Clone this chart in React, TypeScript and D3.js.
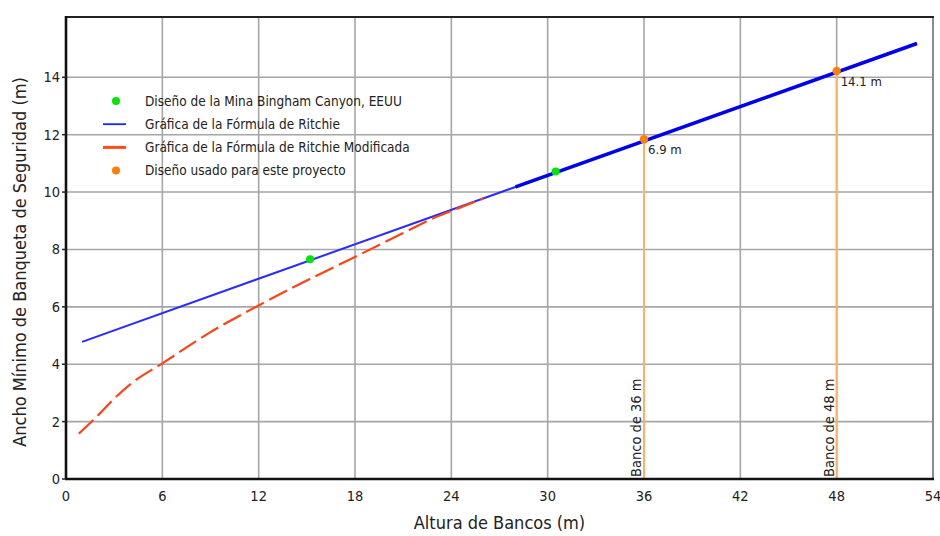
import React from "react";
import * as d3 from "d3";

const xTicks = [0, 6, 12, 18, 24, 30, 36, 42, 48, 54];
const yTicks = [0, 2, 4, 6, 8, 10, 12, 14];

const ritchieH = [1, 53];
const ritchieW = [4.78, 15.18];
const ritchieBoldH = [28, 53];
const ritchieBoldW = [10.18, 15.18];

const modH = [0.8, 2, 3, 4, 6, 9, 12, 15, 18, 21, 23, 24.5, 26];
const modW = [1.58, 2.22, 2.8, 3.3, 4.03, 5.12, 6.05, 6.92, 7.74, 8.57, 9.12, 9.45, 9.78];

const binghamH = [15.2, 30.5];
const binghamW = [7.66, 10.72];

const projectH = [36, 48];
const projectW = [11.84, 14.22];
const projectLabels = ["6.9 m", "14.1 m"];
const bancoLabels = ["Banco de 36 m", "Banco de 48 m"];

const legendItems = [
  { kind: "dot", color: "#00e600", label: "Diseño de la Mina Bingham Canyon, EEUU" },
  { kind: "line", color: "#2020ff", label: "Gráfica de la Fórmula de Ritchie" },
  { kind: "line", color: "#ff4d1a", label: "Gráfica de la Fórmula de Ritchie Modificada" },
  { kind: "dot", color: "#ff8000", label: "Diseño usado para este proyecto" },
];

const W = 940;
const H = 536;
const left = 66, right = 933, top = 17, bottom = 479;
const FONT = "'DejaVu Sans Condensed', 'Liberation Sans Narrow', sans-serif";

export default function App() {
  const x = d3.scaleLinear().domain([0, 54]).range([left, right]);
  const y = d3.scaleLinear().domain([0, 14]).range([bottom, 77.3]);

  const line = d3
    .line<[number, number]>()
    .x((d) => x(d[0]))
    .y((d) => y(d[1]));
  const curve = d3
    .line<[number, number]>()
    .x((d) => x(d[0]))
    .y((d) => y(d[1]))
    .curve(d3.curveMonotoneX);

  const ritchie = ritchieH.map((h, i) => [h, ritchieW[i]] as [number, number]);
  const ritchieBold = ritchieBoldH.map((h, i) => [h, ritchieBoldW[i]] as [number, number]);
  const mod = modH.map((h, i) => [h, modW[i]] as [number, number]);

  return (
    <svg
      width={W}
      height={H}
      style={{ position: "absolute", left: 0, top: 0, background: "#fff" }}
      fontFamily={FONT}
    >
      <rect x={0} y={0} width={W} height={H} fill="#fff" />
      {/* grid */}
      {xTicks.slice(1, -1).map((t) => (
        <line key={"gx" + t} x1={x(t)} x2={x(t)} y1={top} y2={bottom} stroke="#a6a6a6" strokeWidth={1.6} />
      ))}
      {yTicks.slice(1).map((t) => (
        <line key={"gy" + t} x1={left} x2={right} y1={y(t)} y2={y(t)} stroke="#a6a6a6" strokeWidth={1.6} />
      ))}
      {/* right border */}
      <line x1={right} x2={right} y1={top} y2={bottom} stroke="#8c8c8c" strokeWidth={2} />
      {/* top border */}
      <line x1={left} x2={right + 1} y1={top} y2={top} stroke="#222" strokeWidth={2.2} />

      {/* orange vertical lines */}
      {projectH.map((h, i) => (
        <line key={"pv" + i} x1={x(h)} x2={x(h)} y1={y(projectW[i])} y2={bottom} stroke="#ffb060" strokeWidth={2} />
      ))}

      {/* Ritchie */}
      <path d={line(ritchie) || ""} fill="none" stroke="#2a2aff" strokeWidth={2} />
      <path d={line(ritchieBold) || ""} fill="none" stroke="#0000f0" strokeWidth={3.6} />
      {/* modified Ritchie */}
      <path d={curve(mod) || ""} fill="none" stroke="#ff4414" strokeWidth={2.2} strokeDasharray="20,6" />

      {/* Bingham points */}
      {binghamH.map((h, i) => (
        <circle key={"b" + i} cx={x(h)} cy={y(binghamW[i])} r={4} fill="#00e600" />
      ))}
      {/* project points */}
      {projectH.map((h, i) => (
        <circle key={"p" + i} cx={x(h)} cy={y(projectW[i])} r={4.2} fill="#ff8000" />
      ))}
      {projectH.map((h, i) => (
        <text key={"pl" + i} x={x(h) + 4} y={y(projectW[i]) + 15} fontSize={13} fill="#222">
          {projectLabels[i]}
        </text>
      ))}
      {projectH.map((h, i) => (
        <text
          key={"bl" + i}
          transform={`translate(${x(h) - 3},${bottom - 2}) rotate(-90)`}
          fontSize={14.5}
          fill="#222"
        >
          {bancoLabels[i]}
        </text>
      ))}

      {/* axes */}
      <line x1={left} x2={left} y1={top - 1} y2={bottom} stroke="#111" strokeWidth={2.6} />
      <line x1={left - 1} x2={right + 1} y1={bottom} y2={bottom} stroke="#111" strokeWidth={2.6} />
      {yTicks.map((t) => (
        <g key={"yt" + t}>
          <line x1={left - 4} x2={left} y1={y(t)} y2={y(t)} stroke="#222" strokeWidth={1.5} />
          <text x={left - 6} y={y(t) + 5} textAnchor="end" fontSize={14.5} fill="#222">
            {t}
          </text>
        </g>
      ))}
      {xTicks.map((t) => (
        <text key={"xt" + t} x={x(t)} y={bottom + 22} textAnchor="middle" fontSize={14.5} fill="#222">
          {t}
        </text>
      ))}
      <text x={(left + right) / 2} y={529} textAnchor="middle" fontSize={18} fill="#222">
        Altura de Bancos (m)
      </text>
      <text
        transform={`translate(26,${(top + bottom) / 2 + 14}) rotate(-90)`}
        textAnchor="middle"
        fontSize={18}
        fill="#222"
      >
        Ancho Mínimo de Banqueta de Seguridad (m)
      </text>

      {/* legend */}
      {legendItems.map((it, i) => {
        const cy = 101 + i * 23.2;
        return (
          <g key={"lg" + i}>
            {it.kind === "dot" ? (
              <circle cx={116} cy={cy} r={4} fill={it.color} />
            ) : (
              <line x1={103} x2={126} y1={cy} y2={cy} stroke={it.color} strokeWidth={i === 2 ? 3 : 1.8} />
            )}
            <text x={145} y={cy + 4.5} fontSize={13.5} fill="#222">
              {it.label}
            </text>
          </g>
        );
      })}
    </svg>
  );
}
